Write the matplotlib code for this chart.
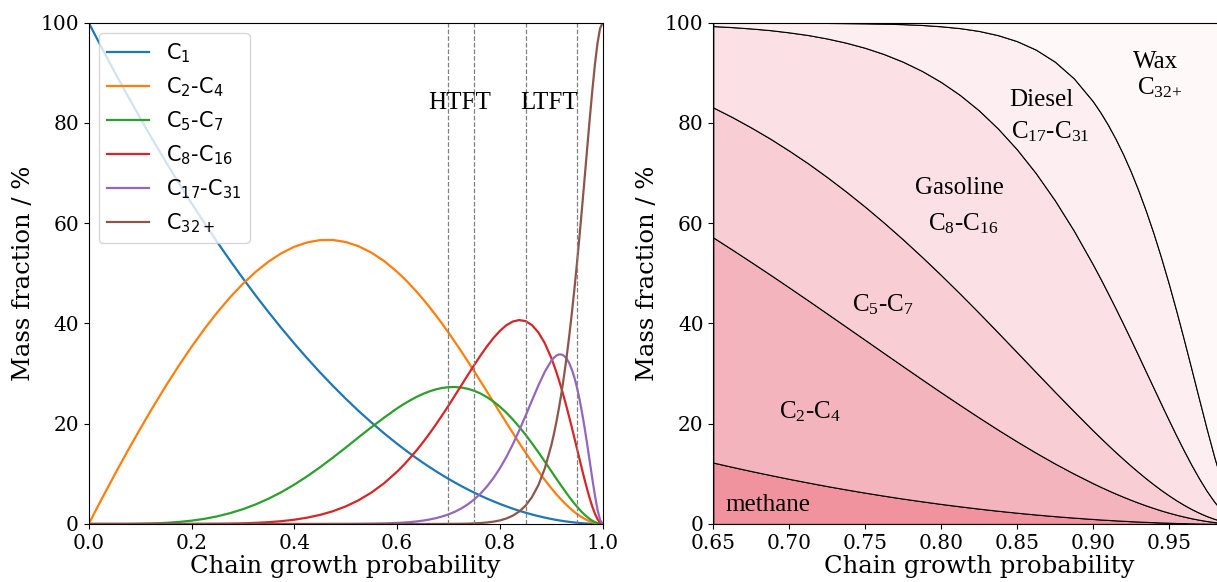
import matplotlib
matplotlib.use("Agg")
import matplotlib.pyplot as plt

# chain growth probability and mass fractions (%) per product cut
alpha = [0, .025, .05, .075, .1, .125, .15, .175, .2, .225, .25, .275, .3, .325, .35,
         .375, .4, .425, .45, .475, .5, .525, .55, .575, .6,
         .6125, .625, .6375, .65, .6625, .675, .6875, .7, .7125, .725, .7375, .75,
         .7625, .775, .7875, .8, .8125, .825, .8375, .85, .8625, .875, .8875, .9,
         .905, .91, .915, .92, .925, .93, .935, .94, .945, .95, .955, .96, .965, .97,
         .975, .98, .985, .99, .995, 1.0]

c1 = [100, 95.06, 90.25, 85.56, 81, 76.56, 72.25, 68.06, 64, 60.06, 56.25, 52.56, 49,
      45.56, 42.25, 39.06, 36, 33.06, 30.25, 27.56, 25, 22.56, 20.25, 18.06, 16,
      15.02, 14.06, 13.14, 12.25, 11.39, 10.56, 9.77, 9, 8.27, 7.56, 6.89, 6.25, 5.64,
      5.06, 4.52, 4, 3.52, 3.06, 2.64, 2.25, 1.89, 1.56, 1.27, 1,
      0.90, 0.81, 0.72, 0.64, 0.56, 0.49, 0.42, 0.36, 0.30, 0.25, 0.20, 0.16, 0.12,
      0.09, 0.06, 0.04, 0.02, 0.01, 0.00, 0]
c2_c4 = [0, 4.94, 9.75, 14.43, 18.95, 23.33, 27.53, 31.54, 35.33, 38.89, 42.19, 45.21,
         47.92, 50.31, 52.35, 54.02, 55.30, 56.17, 56.63, 56.66, 56.25, 55.41, 54.13,
         52.43, 50.30,
         49.10, 47.79, 46.39, 44.91, 43.34, 41.69, 39.97, 38.18, 36.33, 34.42, 32.46,
         30.47, 28.44, 26.40, 24.33, 22.27, 20.22, 18.19, 16.18, 14.23, 12.33, 10.51,
         8.78, 7.15,
         6.53, 5.93, 5.35, 4.80, 4.27, 3.76, 3.28, 2.83, 2.40, 2.01, 1.65, 1.32, 1.02,
         0.76, 0.53, 0.34, 0.20, 0.09, 0.02, 0]
c5_c7 = [0, 0, 0, 0.01, 0.05, 0.11, 0.22, 0.40, 0.66, 1.03, 1.52, 2.16, 2.95, 3.91,
         5.05, 6.36, 7.85, 9.51, 11.31, 13.23, 15.23, 17.28, 19.30, 21.23, 23.06,
         23.88, 24.64, 25.33, 25.93, 26.44, 26.84, 27.13, 27.29, 27.33, 27.22, 26.97,
         26.57, 26.02, 25.30, 24.43, 23.40, 22.21, 20.88, 19.40, 17.80, 16.09, 14.30,
         12.44, 10.54,
         9.79, 9.03, 8.28, 7.54, 6.81, 6.10, 5.40, 4.73, 4.08, 3.47, 2.88, 2.34, 1.84,
         1.39, 0.99, 0.65, 0.37, 0.17, 0.04, 0]
c8_c16 = [0, 0, 0, 0, 0, 0, 0, 0, 0.01, 0.02, 0.04, 0.07, 0.13, 0.22, 0.36, 0.56, 0.85,
          1.26, 1.81, 2.54, 3.50, 4.73, 6.26, 8.15, 10.43,
          11.72, 13.13, 14.63, 16.24, 17.95, 19.76, 21.65, 23.60, 25.61, 27.65, 29.69,
          31.70, 33.63, 35.45, 37.10, 38.51, 39.63, 40.38, 40.68, 40.47, 39.67, 38.21,
          36.04, 33.13,
          31.76, 30.27, 28.68, 26.97, 25.17, 23.27, 21.29, 19.26, 17.17, 15.05, 12.93,
          10.84, 8.80, 6.86, 5.05, 3.43, 2.04, 0.96, 0.25, 0]
c17_c31 = [0, 0, 0, 0, 0, 0, 0, 0, 0, 0, 0, 0, 0, 0, 0, 0, 0, 0, 0, 0.01, 0.01, 0.03,
           0.06, 0.11, 0.21,
           0.28, 0.38, 0.50, 0.67, 0.88, 1.15, 1.49, 1.91, 2.44, 3.10, 3.91, 4.89, 6.08,
           7.50, 9.17, 11.11, 13.34, 15.85, 18.62, 21.58, 24.65, 27.65, 30.38, 32.54,
           33.15, 33.59, 33.82, 33.81, 33.54, 32.96, 32.07, 30.82, 29.21, 27.23, 24.87,
           22.15, 19.12, 15.84, 12.40, 8.94, 5.67, 2.83, 0.80, 0]
c32 = [0] * 25 + [
       0, 0, 0, 0, 0, 0.01, 0.01, 0.02, 0.03, 0.04, 0.07, 0.12, 0.19, 0.30, 0.46, 0.71,
       1.09, 1.65, 2.47, 3.66, 5.37, 7.77, 11.10, 15.64,
       17.87, 20.37, 23.15, 26.24, 29.66, 33.42, 37.54, 42.01, 46.83, 52.00, 57.47,
       63.19, 69.10, 75.07, 80.97, 86.60, 91.70, 95.93, 98.88, 100]

labels = [r"$\mathregular{C_1}$", r"$\mathregular{C_2}$-$\mathregular{C_4}$",
          r"$\mathregular{C_5}$-$\mathregular{C_7}$", r"$\mathregular{C_8}$-$\mathregular{C_{16}}$",
          r"$\mathregular{C_{17}}$-$\mathregular{C_{31}}$", r"$\mathregular{C_{32+}}$"]
series = [c1, c2_c4, c5_c7, c8_c16, c17_c31, c32]

ft_windows = [0.70, 0.75, 0.85, 0.95]
fill_colors = ["#f0939f", "#f4b4bd", "#f8cdd4", "#fbe1e5", "#fdeff1", "#fef8f9"]

plt.rcParams["font.family"] = "DejaVu Serif"
plt.rcParams["xtick.labelsize"] = 14.5
plt.rcParams["ytick.labelsize"] = 14.5

fig = plt.figure(figsize=(12.17, 5.82), dpi=100)
ax1 = fig.add_axes([0.0729, 0.0997, 0.4223, 0.8613])
ax2 = fig.add_axes([0.5861, 0.0997, 0.4366, 0.8613])

# left: individual cuts
for s, lab in zip(series, labels):
    ax1.plot(alpha, s, label=lab, lw=1.6)
for a in ft_windows:
    ax1.axvline(a, color="gray", ls="--", lw=0.9)
ax1.text(0.721, 84, "HTFT", ha="center", va="center", fontsize=18, family="Liberation Serif")
ax1.text(0.896, 84, "LTFT", ha="center", va="center", fontsize=18, family="Liberation Serif")
ax1.set_xlim(0, 1)
ax1.set_ylim(0, 100)
ax1.set_xlabel("Chain growth probability", fontsize=17.5, labelpad=2)
ax1.set_ylabel("Mass fraction / %", fontsize=17.5)
ax1.legend(loc="upper left", prop={"family": "DejaVu Sans", "size": 15})

# right: stacked cuts for the FT range
i0 = alpha.index(0.65)
ax2.stackplot(alpha[i0:], *[s[i0:] for s in series], colors=fill_colors,
              edgecolor="k", linewidth=0.8)
ax2.set_xlim(0.65, 1.0)
ax2.set_ylim(0, 100)
ax2.set_xticks([0.65, 0.70, 0.75, 0.80, 0.85, 0.90, 0.95])
ax2.set_xlabel("Chain growth probability", fontsize=17.5, labelpad=2)
ax2.set_ylabel("Mass fraction / %", fontsize=17.5)

tf = dict(ha="center", va="center", fontsize=18, family="Liberation Serif")
ax2.text(0.6583, 3.8, "methane", ha="left", va="center", fontsize=18, family="Liberation Serif")
ax2.text(0.714, 22.3, r"C$\mathregular{_2}$-C$\mathregular{_4}$", **tf)
ax2.text(0.762, 43.7, r"C$\mathregular{_5}$-C$\mathregular{_7}$", **tf)
ax2.text(0.812, 67.0, "Gasoline", **tf)
ax2.text(0.8145, 60.0, r"C$\mathregular{_8}$-C$\mathregular{_{16}}$", **tf)
ax2.text(0.866, 84.6, "Diesel", **tf)
ax2.text(0.872, 78.2, r"C$\mathregular{_{17}}$-C$\mathregular{_{31}}$", **tf)
ax2.text(0.9416, 92.2, "Wax", **tf)
ax2.text(0.944, 87.0, r"C$\mathregular{_{32{+}}}$", **tf)

fig.savefig("out.png", dpi=100)
